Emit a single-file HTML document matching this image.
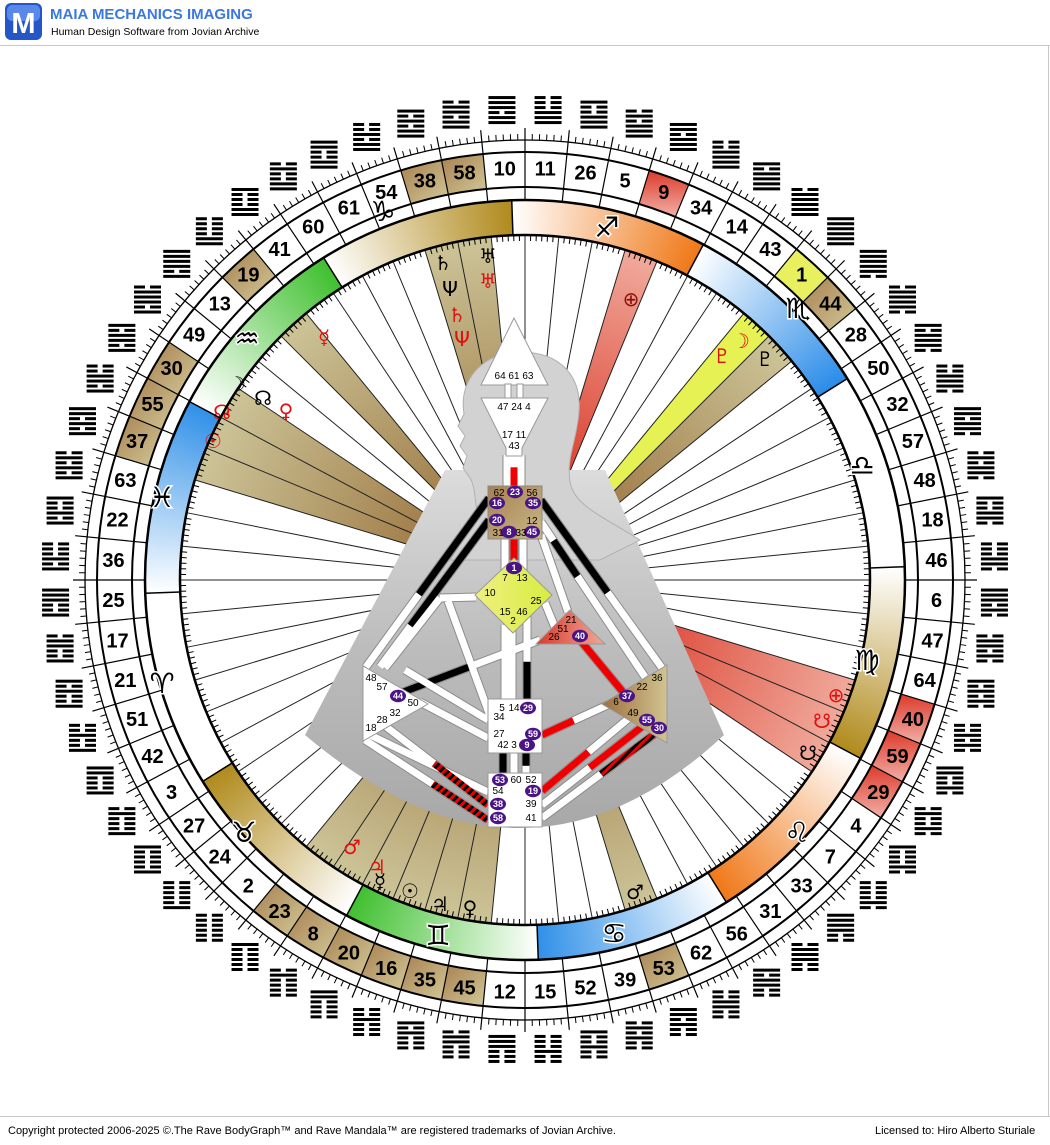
<!DOCTYPE html>
<html><head><meta charset="utf-8">
<style>
html,body{margin:0;padding:0;background:#fff;}
body{width:1050px;height:1145px;position:relative;overflow:hidden;font-family:"Liberation Sans",sans-serif;}
#zod{position:absolute;left:145px;top:200px;width:760px;height:760px;border-radius:50%;
background:conic-gradient(from -2deg,#fff 0deg,#f07818 30deg,#fff 30deg,#2a8ce8 60deg,#fff 60deg,#fff 90deg,#fff 90deg,#b08a1c 120deg,#fff 120deg,#f07818 150deg,#fff 150deg,#3090e8 180deg,#fff 180deg,#40c030 210deg,#fff 210deg,#b08a1c 240deg,#fff 240deg,#fff 270deg,#fff 270deg,#3090e8 300deg,#fff 300deg,#40c030 330deg,#fff 330deg,#b08a1c 360deg);}
svg{position:absolute;left:0;top:0;}
.n{font:bold 20px "Liberation Sans",sans-serif;fill:#000;text-anchor:middle;}
.g{font:20px "DejaVu Sans",sans-serif;text-anchor:middle;}
.z{font:bold 28px "DejaVu Sans",sans-serif;text-anchor:middle;fill:#000;stroke:#fff;stroke-width:3;paint-order:stroke;}
.b{font:10px "Liberation Sans",sans-serif;fill:#000;text-anchor:middle;}
.c{font:bold 9px "Liberation Sans",sans-serif;fill:#fff;text-anchor:middle;}
</style></head><body>
<div id="zod"></div>
<svg width="1050" height="1145" viewBox="0 0 1050 1145" xmlns="http://www.w3.org/2000/svg">
<defs>
<radialGradient id="gTan" gradientUnits="userSpaceOnUse" cx="525" cy="580" r="345"><stop offset="0.3" stop-color="#a07c48"/><stop offset="1" stop-color="#ccc498"/></radialGradient>
<radialGradient id="gRed" gradientUnits="userSpaceOnUse" cx="525" cy="580" r="345"><stop offset="0.35" stop-color="#dc4434"/><stop offset="1" stop-color="#f0aa9c"/></radialGradient>
<linearGradient id="cTan" x1="0" y1="0" x2="1" y2="1"><stop offset="0" stop-color="#a88050"/><stop offset="1" stop-color="#d2c898"/></linearGradient>
<linearGradient id="cRed" x1="0" y1="0" x2="0" y2="1"><stop offset="0" stop-color="#dc3a2a"/><stop offset="1" stop-color="#f2b0a8"/></linearGradient>
<linearGradient id="cone" x1="0" y1="0" x2="0" y2="1"><stop offset="0" stop-color="#dcdcdc"/><stop offset="0.5" stop-color="#bcbcbc"/><stop offset="1" stop-color="#a8a8a8"/></linearGradient>
<linearGradient id="thr" x1="0" y1="0" x2="1" y2="1"><stop offset="0" stop-color="#a88050"/><stop offset="1" stop-color="#c8b888"/></linearGradient>
<linearGradient id="gG" x1="0" y1="0" x2="1" y2="0"><stop offset="0" stop-color="#eef080"/><stop offset="1" stop-color="#d8ec40"/></linearGradient>
<linearGradient id="gH" x1="0" y1="0" x2="1" y2="0"><stop offset="0" stop-color="#d83a2a"/><stop offset="1" stop-color="#f0a898"/></linearGradient>
<linearGradient id="gS" x1="0" y1="0" x2="1" y2="0"><stop offset="0" stop-color="#a07040"/><stop offset="1" stop-color="#d0c490"/></linearGradient>
<pattern id="stripe" width="6" height="6" patternUnits="userSpaceOnUse" patternTransform="rotate(45)"><rect width="3" height="6" fill="#e00"/><rect x="3" width="3" height="6" fill="#000"/></pattern>
</defs>
<!-- header -->
<rect x="5" y="3" width="37" height="37" rx="6" fill="#2456c8"/>
<rect x="7" y="5" width="33" height="16" rx="5" fill="#5a88e8"/>
<text x="23.5" y="33" style="font:bold 29px 'Liberation Sans',sans-serif;fill:#fff;text-anchor:middle">M</text>
<text x="50" y="19" style="font:bold 15px 'Liberation Sans',sans-serif;fill:#3a78e0">MAIA MECHANICS IMAGING</text>
<text x="51" y="35" style="font:10.5px 'Liberation Sans',sans-serif;fill:#000">Human Design Software from Jovian Archive</text>
<line x1="0" y1="45.5" x2="1050" y2="45.5" stroke="#c8c8c8"/>
<line x1="1048.5" y1="46" x2="1048.5" y2="1116" stroke="#c8c8c8"/>
<line x1="0" y1="1116.5" x2="1050" y2="1116.5" stroke="#c8c8c8"/>
<text x="8" y="1134" style="font:11px 'Liberation Sans',sans-serif;fill:#000">Copyright protected 2006-2025 ©.The Rave BodyGraph™ and Rave Mandala™ are registered trademarks of Jovian Archive.</text>
<text x="875" y="1134" style="font:11px 'Liberation Sans',sans-serif;fill:#000">Licensed to: Hiro Alberto Sturiale</text>

<circle cx="525" cy="580" r="345" fill="#fff"/>
<g id="wedges"></g>
<g id="spokes"></g>
<!-- planet glyphs -->
<g class="g">
<text x="443" y="270" fill="#000">♄</text><text x="488" y="263" fill="#000">♅</text>
<text x="450" y="296" fill="#000">Ψ</text><text x="488" y="288" fill="#e01010">♅</text>
<text x="457" y="322" fill="#e01010">♄</text><text x="462" y="346" fill="#e01010">Ψ</text>
<text x="631" y="306" fill="#8a1010">⊕</text>
<text x="722" y="363" fill="#e01010">♇</text><text x="741" y="348" fill="#e01010">☽</text><text x="765" y="366" fill="#000">♇</text>
<text x="324" y="344" fill="#e01010">☿</text>
<text x="237" y="391" fill="#000">☽</text><text x="263" y="405" fill="#000">☊</text><text x="286" y="418" fill="#e01010">♀</text>
<text x="222" y="419" fill="#e01010">☊</text><text x="213" y="448" fill="#e01010">☉</text>
<text x="836" y="702" fill="#e01010">⊕</text><text x="822" y="728" fill="#e01010">☋</text><text x="808" y="760" fill="#000">☋</text>
<text x="635" y="899" fill="#000">♂</text>
<text x="352" y="854" fill="#e01010">♂</text><text x="377" y="874" fill="#e01010">♃</text>
<text x="380" y="888" fill="#000">☿</text><text x="410" y="898" fill="#000">☉</text>
<text x="440" y="911" fill="#000">♃</text><text x="470" y="915" fill="#000">♀</text>
</g>
<g id="zb"></g>
<circle cx="525" cy="580" r="345" fill="none" stroke="#000" stroke-width="2.5"/>
<circle cx="525" cy="580" r="380" fill="none" stroke="#000" stroke-width="2.5"/>
<g class="z">
<text x="383" y="221">♑&#xFE0E;</text><text x="607" y="237">♐&#xFE0E;</text><text x="798" y="318">♏&#xFE0E;</text>
<text x="862" y="475">♎&#xFE0E;</text><text x="867" y="670">♍&#xFE0E;</text><text x="797" y="842">♌&#xFE0E;</text>
<text x="614" y="943">♋&#xFE0E;</text><text x="438" y="945">♊&#xFE0E;</text><text x="244" y="842">♉&#xFE0E;</text>
<text x="162" y="693">♈&#xFE0E;</text><text x="162" y="507">♓&#xFE0E;</text><text x="247" y="348">♒&#xFE0E;</text>
</g>
<g id="cells"></g>
<g id="ring"></g>
<circle cx="525" cy="580" r="393" fill="none" stroke="#000" stroke-width="2"/>
<circle cx="525" cy="580" r="428" fill="none" stroke="#000" stroke-width="2"/>
<circle cx="525" cy="580" r="440" fill="none" stroke="#000" stroke-width="1.3"/>
<g class="n">
<text dy="7" transform="rotate(2.8125 525 580) translate(525 168) rotate(-2.8125)">11</text>
<text dy="7" transform="rotate(8.4375 525 580) translate(525 168) rotate(-8.4375)">26</text>
<text dy="7" transform="rotate(14.0625 525 580) translate(525 168) rotate(-14.0625)">5</text>
<text dy="7" transform="rotate(19.6875 525 580) translate(525 168) rotate(-19.6875)">9</text>
<text dy="7" transform="rotate(25.3125 525 580) translate(525 168) rotate(-25.3125)">34</text>
<text dy="7" transform="rotate(30.9375 525 580) translate(525 168) rotate(-30.9375)">14</text>
<text dy="7" transform="rotate(36.5625 525 580) translate(525 168) rotate(-36.5625)">43</text>
<text dy="7" transform="rotate(42.1875 525 580) translate(525 168) rotate(-42.1875)">1</text>
<text dy="7" transform="rotate(47.8125 525 580) translate(525 168) rotate(-47.8125)">44</text>
<text dy="7" transform="rotate(53.4375 525 580) translate(525 168) rotate(-53.4375)">28</text>
<text dy="7" transform="rotate(59.0625 525 580) translate(525 168) rotate(-59.0625)">50</text>
<text dy="7" transform="rotate(64.6875 525 580) translate(525 168) rotate(-64.6875)">32</text>
<text dy="7" transform="rotate(70.3125 525 580) translate(525 168) rotate(-70.3125)">57</text>
<text dy="7" transform="rotate(75.9375 525 580) translate(525 168) rotate(-75.9375)">48</text>
<text dy="7" transform="rotate(81.5625 525 580) translate(525 168) rotate(-81.5625)">18</text>
<text dy="7" transform="rotate(87.1875 525 580) translate(525 168) rotate(-87.1875)">46</text>
<text dy="7" transform="rotate(92.8125 525 580) translate(525 168) rotate(-92.8125)">6</text>
<text dy="7" transform="rotate(98.4375 525 580) translate(525 168) rotate(-98.4375)">47</text>
<text dy="7" transform="rotate(104.0625 525 580) translate(525 168) rotate(-104.0625)">64</text>
<text dy="7" transform="rotate(109.6875 525 580) translate(525 168) rotate(-109.6875)">40</text>
<text dy="7" transform="rotate(115.3125 525 580) translate(525 168) rotate(-115.3125)">59</text>
<text dy="7" transform="rotate(120.9375 525 580) translate(525 168) rotate(-120.9375)">29</text>
<text dy="7" transform="rotate(126.5625 525 580) translate(525 168) rotate(-126.5625)">4</text>
<text dy="7" transform="rotate(132.1875 525 580) translate(525 168) rotate(-132.1875)">7</text>
<text dy="7" transform="rotate(137.8125 525 580) translate(525 168) rotate(-137.8125)">33</text>
<text dy="7" transform="rotate(143.4375 525 580) translate(525 168) rotate(-143.4375)">31</text>
<text dy="7" transform="rotate(149.0625 525 580) translate(525 168) rotate(-149.0625)">56</text>
<text dy="7" transform="rotate(154.6875 525 580) translate(525 168) rotate(-154.6875)">62</text>
<text dy="7" transform="rotate(160.3125 525 580) translate(525 168) rotate(-160.3125)">53</text>
<text dy="7" transform="rotate(165.9375 525 580) translate(525 168) rotate(-165.9375)">39</text>
<text dy="7" transform="rotate(171.5625 525 580) translate(525 168) rotate(-171.5625)">52</text>
<text dy="7" transform="rotate(177.1875 525 580) translate(525 168) rotate(-177.1875)">15</text>
<text dy="7" transform="rotate(182.8125 525 580) translate(525 168) rotate(-182.8125)">12</text>
<text dy="7" transform="rotate(188.4375 525 580) translate(525 168) rotate(-188.4375)">45</text>
<text dy="7" transform="rotate(194.0625 525 580) translate(525 168) rotate(-194.0625)">35</text>
<text dy="7" transform="rotate(199.6875 525 580) translate(525 168) rotate(-199.6875)">16</text>
<text dy="7" transform="rotate(205.3125 525 580) translate(525 168) rotate(-205.3125)">20</text>
<text dy="7" transform="rotate(210.9375 525 580) translate(525 168) rotate(-210.9375)">8</text>
<text dy="7" transform="rotate(216.5625 525 580) translate(525 168) rotate(-216.5625)">23</text>
<text dy="7" transform="rotate(222.1875 525 580) translate(525 168) rotate(-222.1875)">2</text>
<text dy="7" transform="rotate(227.8125 525 580) translate(525 168) rotate(-227.8125)">24</text>
<text dy="7" transform="rotate(233.4375 525 580) translate(525 168) rotate(-233.4375)">27</text>
<text dy="7" transform="rotate(239.0625 525 580) translate(525 168) rotate(-239.0625)">3</text>
<text dy="7" transform="rotate(244.6875 525 580) translate(525 168) rotate(-244.6875)">42</text>
<text dy="7" transform="rotate(250.3125 525 580) translate(525 168) rotate(-250.3125)">51</text>
<text dy="7" transform="rotate(255.9375 525 580) translate(525 168) rotate(-255.9375)">21</text>
<text dy="7" transform="rotate(261.5625 525 580) translate(525 168) rotate(-261.5625)">17</text>
<text dy="7" transform="rotate(267.1875 525 580) translate(525 168) rotate(-267.1875)">25</text>
<text dy="7" transform="rotate(272.8125 525 580) translate(525 168) rotate(-272.8125)">36</text>
<text dy="7" transform="rotate(278.4375 525 580) translate(525 168) rotate(-278.4375)">22</text>
<text dy="7" transform="rotate(284.0625 525 580) translate(525 168) rotate(-284.0625)">63</text>
<text dy="7" transform="rotate(289.6875 525 580) translate(525 168) rotate(-289.6875)">37</text>
<text dy="7" transform="rotate(295.3125 525 580) translate(525 168) rotate(-295.3125)">55</text>
<text dy="7" transform="rotate(300.9375 525 580) translate(525 168) rotate(-300.9375)">30</text>
<text dy="7" transform="rotate(306.5625 525 580) translate(525 168) rotate(-306.5625)">49</text>
<text dy="7" transform="rotate(312.1875 525 580) translate(525 168) rotate(-312.1875)">13</text>
<text dy="7" transform="rotate(317.8125 525 580) translate(525 168) rotate(-317.8125)">19</text>
<text dy="7" transform="rotate(323.4375 525 580) translate(525 168) rotate(-323.4375)">41</text>
<text dy="7" transform="rotate(329.0625 525 580) translate(525 168) rotate(-329.0625)">60</text>
<text dy="7" transform="rotate(334.6875 525 580) translate(525 168) rotate(-334.6875)">61</text>
<text dy="7" transform="rotate(340.3125 525 580) translate(525 168) rotate(-340.3125)">54</text>
<text dy="7" transform="rotate(345.9375 525 580) translate(525 168) rotate(-345.9375)">38</text>
<text dy="7" transform="rotate(351.5625 525 580) translate(525 168) rotate(-351.5625)">58</text>
<text dy="7" transform="rotate(357.1875 525 580) translate(525 168) rotate(-357.1875)">10</text>
</g>
<g id="hex"></g>

<!-- bodygraph silhouette -->
<path d="M445,470 L605,470 L724,735 Q525,921 305,735 Z" fill="url(#cone)"/>
<path d="M478,515 C474,500 476,488 470,478 L463,468 L467,456 L460,446 L465,436 L458,426 L464,414 C458,378 485,352 520,352 C562,352 582,378 579,412 C577,440 566,458 570,482 C574,505 600,515 640,540 L600,560 L450,560 Z" fill="#d2d2d2" stroke="#b0b0b0" stroke-width="1"/>
<g id="ch"></g>
<!-- head & ajna -->
<polygon points="514,318 548,385 481,385" fill="#fff" stroke="#999"/>
<rect x="505" y="384" width="6" height="15" fill="#fff" stroke="#999"/>
<rect x="517" y="384" width="6" height="15" fill="#fff" stroke="#999"/>
<polygon points="481,398 548,398 522,448 522,456 506,456 506,448" fill="#fff" stroke="#999"/>
<text class="b" x="514" y="379">64 61 63</text>
<text class="b" x="514" y="410">47 24 4</text>
<text class="b" x="514" y="438">17 11</text>
<text class="b" x="514" y="449">43</text>
<!-- throat -->
<rect x="488" y="486" width="54" height="53" fill="url(#thr)" stroke="#888"/>
<!-- G -->
<polygon points="514,558 552,595 513,633 475,595" fill="url(#gG)" stroke="#999"/>
<!-- heart -->
<polygon points="570,610 605,644 536,644" fill="url(#gH)" stroke="#999"/>
<!-- spleen -->
<polygon points="363,666 428,704 363,741" fill="#fff" stroke="#999"/>
<!-- SP -->
<polygon points="667,665 602,704 667,743" fill="url(#gS)" stroke="#999"/>
<!-- sacral, root -->
<rect x="488" y="699" width="54" height="54" fill="#fff" stroke="#999"/>
<rect x="488" y="773" width="54" height="54" fill="#fff" stroke="#999"/>
<g id="dots"></g>
<g class="b">
<text x="499" y="496">62</text><text x="532" y="496">56</text><text x="532" y="524">12</text>
<text x="498" y="536">31</text><text x="521" y="536">33</text>
<text x="505" y="581">7</text><text x="522" y="581">13</text><text x="490" y="596">10</text><text x="536" y="604">25</text>
<text x="505" y="615">15</text><text x="522" y="615">46</text><text x="513" y="624">2</text>
<text x="571" y="623">21</text><text x="563" y="632">51</text><text x="554" y="640">26</text>
<text x="371" y="681">48</text><text x="382" y="690">57</text><text x="413" y="706">50</text>
<text x="395" y="716">32</text><text x="382" y="723">28</text><text x="371" y="731">18</text>
<text x="657" y="681">36</text><text x="642" y="690">22</text><text x="616" y="705">6</text><text x="633" y="716">49</text>
<text x="502" y="711">5</text><text x="514" y="711">14</text><text x="499" y="720">34</text><text x="499" y="737">27</text>
<text x="503" y="748">42</text><text x="514" y="748">3</text>
<text x="516" y="783">60</text><text x="531" y="783">52</text><text x="498" y="794">54</text>
<text x="531" y="807">39</text><text x="531" y="821">41</text>
</g>
<g class="c">
<text x="515" y="495">23</text><text x="497" y="506">16</text><text x="533" y="506">35</text><text x="497" y="523">20</text>
<text x="509" y="535">8</text><text x="532" y="535">45</text><text x="514" y="571">1</text><text x="580" y="639">40</text>
<text x="398" y="699">44</text><text x="627" y="699">37</text><text x="647" y="723">55</text><text x="659" y="731">30</text>
<text x="528" y="711">29</text><text x="533" y="737">59</text><text x="527" y="748">9</text>
<text x="500" y="783">53</text><text x="533" y="794">19</text><text x="498" y="807">38</text><text x="498" y="821">58</text>
</g>
</svg>
<script>
(function(){
var NS='http://www.w3.org/2000/svg';
function P(r,a){var t=a*Math.PI/180;return [525+r*Math.sin(t),580-r*Math.cos(t)];}
function sec(r1,r2,a1,a2){var p1=P(r2,a1),p2=P(r2,a2),p3=P(r1,a2),p4=P(r1,a1);
return 'M'+p1+' A'+r2+','+r2+' 0 0 1 '+p2+' L'+p3+' A'+r1+','+r1+' 0 0 0 '+p4+' Z';}
function ln(r1,r2,a,w,c){var p=P(r1,a),q=P(r2,a);return '<line x1="'+p[0]+'" y1="'+p[1]+'" x2="'+q[0]+'" y2="'+q[1]+'" stroke="'+(c||'#000')+'" stroke-width="'+w+'"/>';}
var order=[11,26,5,9,34,14,43,1,44,28,50,32,57,48,18,46,6,47,64,40,59,29,4,7,33,31,56,62,53,39,52,15,12,45,35,16,20,8,23,2,24,27,3,42,51,21,17,25,36,22,63,37,55,30,49,13,19,41,60,61,54,38,58,10];
var hx={1:'111111',2:'000000',3:'100010',4:'010001',5:'111010',6:'010111',7:'010000',8:'000010',9:'111011',10:'110111',11:'111000',12:'000111',13:'101111',14:'111101',15:'001000',16:'000100',17:'100110',18:'011001',19:'110000',20:'000011',21:'100101',22:'101001',23:'000001',24:'100000',25:'100111',26:'111001',27:'100001',28:'011110',29:'010010',30:'101101',31:'001110',32:'011100',33:'001111',34:'111100',35:'000101',36:'101000',37:'101011',38:'110101',39:'001010',40:'010100',41:'110001',42:'100011',43:'111110',44:'011111',45:'000110',46:'011000',47:'010110',48:'011010',49:'101110',50:'011101',51:'100100',52:'001001',53:'001011',54:'110100',55:'101100',56:'001101',57:'011011',58:'110110',59:'010011',60:'110010',61:'110011',62:'001100',63:'101010',64:'010101'};
var tan=[38,58,44,53,45,35,16,20,8,23,30,55,37,19],red=[9,40,59,29],yel=[1];
var W='',S='',C='',R='',H='',ZB='';
for(var i=0;i<64;i++){
 var g=order[i],a1=i*5.625,a2=a1+5.625;
 var wf=null,cf=null;
 if(tan.indexOf(g)>=0){wf='url(#gTan)';cf='url(#cTan)';}
 if(red.indexOf(g)>=0){wf='url(#gRed)';cf='url(#cRed)';}
 if(yel.indexOf(g)>=0){wf='#e6f254';cf='#e8f060';}
 if(wf){W+='<path d="'+sec(60,345,a1,a2)+'" fill="'+wf+'"/>';C+='<path d="'+sec(393,428,a1,a2)+'" fill="'+cf+'"/>';}
 S+=ln(80,345,a1,1,'#222');
 R+=ln(380,452,a1,1.2);
 for(var k=1;k<6;k++){var a=a1+k*5.625/6;R+=ln(440,446,a,1);S+=ln(339,345,a,1);}
 var c=P(470,a1+2.8125),s=hx[g];
 for(var k=0;k<6;k++){var y=c[1]+12-k*5;var x=c[0]-13.5;
  if(s[k]=='1')H+='<rect x="'+x+'" y="'+(y-1.5)+'" width="27" height="3"/>';
  else H+='<rect x="'+x+'" y="'+(y-1.5)+'" width="11" height="3"/><rect x="'+(x+16)+'" y="'+(y-1.5)+'" width="11" height="3"/>';}
}
for(var j=0;j<12;j++)ZB+=ln(345,380,-2+30*j,1.5);
document.getElementById('wedges').innerHTML=W;
document.getElementById('spokes').innerHTML=S;
document.getElementById('cells').innerHTML=C;
document.getElementById('ring').innerHTML=R;
document.getElementById('hex').innerHTML=H;
document.getElementById('zb').innerHTML=ZB;
// channels
var ch=[
[366,667,489,498,[[0.43,1,'#000']]],
[380,667,489,520,[[0.28,1,'#000']]],
[541,500,662,668,[[0,0.55,'#000']]],
[541,522,645,677,[[0.12,0.35,'#000']]],
[476,597,440,598,[]],[440,598,385,668,[]],
[398,694,540,640,[[0,0.5,'#000']]],
[405,670,488,720,[]],[420,702,488,738,[]],[448,601,490,716,[]],
[370,735,488,792,[]],
[380,722,488,805,[[0.5,1,'url(#stripe)']]],
[365,740,488,820,[[0.55,1,'url(#stripe)']]],
[505,625,505,700,[]],[512,630,512,700,[]],[527,615,527,700,[[0.55,1,'#000']]],
[503,752,503,775,[[0,1,'#000']]],[514,752,514,775,[]],[526,752,526,775,[[0,0.6,'#000']]],
[580,640,627,697,[[0,1,'#e00']]],
[545,603,556,630,[]],[541,535,568,612,[]],
[542,735,612,703,[[0,0.45,'#e00']]],
[542,791,635,713,[[0,0.5,'#e00']]],
[542,805,648,722,[[0.45,0.95,'#e00']]],
[542,818,660,730,[[0.5,1,'url(#stripe)']]],
[505,538,505,572,[]],[523,538,523,572,[]],[514,538,514,560,[[0,1,'#e00']]],
[507,455,507,486,[]],[521,455,521,486,[]],[514,452,514,486,[[0.45,1,'#e00']]]
];
var Q='';
ch.forEach(function(c){Q+='<line x1="'+c[0]+'" y1="'+c[1]+'" x2="'+c[2]+'" y2="'+c[3]+'" stroke="#8c8c8c" stroke-width="9"/>';});
ch.forEach(function(c){Q+='<line x1="'+c[0]+'" y1="'+c[1]+'" x2="'+c[2]+'" y2="'+c[3]+'" stroke="#fff" stroke-width="7"/>';
 c[4].forEach(function(s){var dx=c[2]-c[0],dy=c[3]-c[1];
  Q+='<line x1="'+(c[0]+dx*s[0])+'" y1="'+(c[1]+dy*s[0])+'" x2="'+(c[0]+dx*s[1])+'" y2="'+(c[1]+dy*s[1])+'" stroke="'+s[2]+'" stroke-width="7"/>';});});
document.getElementById('ch').innerHTML=Q;
var dots=[[515,492],[497,503],[533,503],[497,520],[509,532],[532,532],[514,568],[580,636],[398,696],[627,696],[647,720],[659,728],[528,708],[533,734],[527,745],[500,780],[533,791],[498,804],[498,818]];
var D='';dots.forEach(function(d){D+='<ellipse cx="'+d[0]+'" cy="'+d[1]+'" rx="8" ry="6.2" fill="#4a1486"/>';});
document.getElementById('dots').innerHTML=D;
})();
</script>
</body></html>
